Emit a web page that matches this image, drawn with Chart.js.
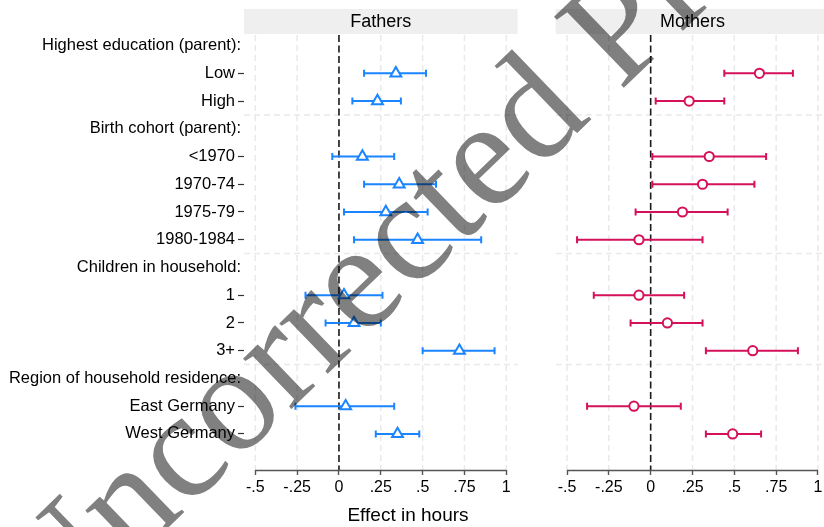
<!DOCTYPE html>
<html><head><meta charset="utf-8">
<script src="https://cdn.jsdelivr.net/npm/chart.js@4.4.1/dist/chart.umd.min.js"></script>
<style>
html,body{margin:0;padding:0;background:#fff;overflow:hidden;}
#wrap{position:relative;width:824px;height:527px;overflow:hidden;background:#fff;}
#c1{position:absolute;left:0;top:0;}
#c2{position:absolute;left:520px;top:0;}
#wm{position:absolute;left:0;top:0;mix-blend-mode:multiply;pointer-events:none;}
</style></head><body>
<div id="wrap">
<canvas id="c1" width="520" height="527"></canvas>
<canvas id="c2" width="310" height="527"></canvas>
<canvas id="wm" width="824" height="527"></canvas>
</div>
<script>
// ---- data ----
const rowLabels = ['Highest education (parent):','Low','High','Birth cohort (parent):','<1970','1970-74','1975-79','1980-1984','Children in household:','1','2','3+','Region of household residence:','East Germany','West Germany'];
const isHeader = [true,false,false,true,false,false,false,false,true,false,false,false,true,false,false];
const fathersEst  = [null,0.34,0.23,null,0.14,0.36,0.28,0.47,null,0.03,0.09,0.72,null,0.04,0.35];
const fathersLow  = [null,0.15,0.08,null,-0.04,0.15,0.03,0.09,null,-0.20,-0.08,0.50,null,-0.26,0.22];
const fathersHigh = [null,0.52,0.37,null,0.33,0.58,0.53,0.85,null,0.26,0.25,0.93,null,0.33,0.48];
const mothersEst  = [null,0.65,0.23,null,0.35,0.31,0.19,-0.07,null,-0.07,0.10,0.61,null,-0.10,0.49];
const mothersLow  = [null,0.44,0.03,null,0.01,0.01,-0.09,-0.44,null,-0.34,-0.12,0.33,null,-0.38,0.33];
const mothersHigh = [null,0.85,0.44,null,0.69,0.62,0.46,0.31,null,0.20,0.31,0.88,null,0.18,0.66];
const xTickValues = [-0.5,-0.25,0,0.25,0.5,0.75,1];
const xTickLabels = ['-.5','-.25','0','.25','.5','.75','1'];
const groupBreaks = [2.5,7.5,11.5];
const panelTitles = ['Fathers','Mothers'];
const xAxisTitle = 'Effect in hours';
const watermarkText = 'Uncorrected Proof';

const FONT = '"Liberation Sans", Arial, Helvetica, sans-serif';
Chart.defaults.font.family = FONT;
Chart.defaults.color = '#000';

function ciData(lo, hi){
  const d = [];
  lo.forEach((l,i)=>{ if(l===null) return; d.push({x:l,y:i},{x:hi[i],y:i},{x:null,y:i}); });
  return d;
}
function estData(est){
  const d = [];
  est.forEach((e,i)=>{ if(e!==null) d.push({x:e,y:i}); });
  return d;
}

const decor = {
  id:'decor',
  beforeDatasetsDraw(chart, args, o){
    const {ctx, chartArea:ca, scales:{x,y}} = chart;
    ctx.save();
    ctx.strokeStyle = '#e9e9e9'; ctx.lineWidth = 1.5; ctx.setLineDash([6,4]);
    xTickValues.forEach(v=>{ if(v===0) return; const px=x.getPixelForValue(v);
      ctx.beginPath(); ctx.moveTo(px, ca.top); ctx.lineTo(px, ca.bottom); ctx.stroke(); });
    groupBreaks.forEach(v=>{ const py=y.getPixelForValue(v);
      ctx.beginPath(); ctx.moveTo(ca.left, py); ctx.lineTo(ca.right, py); ctx.stroke(); });
    ctx.strokeStyle = '#1a1a1a'; ctx.lineWidth = 1.6; ctx.setLineDash([7,3.5]);
    const z = x.getPixelForValue(0);
    ctx.beginPath(); ctx.moveTo(z, ca.top); ctx.lineTo(z, ca.bottom); ctx.stroke();
    ctx.setLineDash([]); ctx.strokeStyle = '#555'; ctx.lineWidth = 1.4;
    ctx.beginPath(); ctx.moveTo(x.getPixelForValue(xTickValues[0]), ca.bottom+0.5);
    ctx.lineTo(x.getPixelForValue(xTickValues[xTickValues.length-1]), ca.bottom+0.5); ctx.stroke();
    ctx.restore();
  },
  afterDraw(chart, args, o){
    const {ctx, chartArea:ca, scales:{y}} = chart;
    ctx.save();
    ctx.fillStyle = '#efefef';
    ctx.fillRect(ca.left, 9, ca.right-ca.left, 25);
    ctx.fillStyle = '#000'; ctx.font = '18px '+FONT; ctx.textAlign='center'; ctx.textBaseline='middle';
    ctx.fillText(o.title, (ca.left+ca.right)/2, 22.5);
    if (o.headers){
      ctx.font = '16.5px '+FONT; ctx.textAlign='right';
      rowLabels.forEach((t,i)=>{ if(isHeader[i]) ctx.fillText(t, 241, y.getPixelForValue(i)); });
    }
    if (o.xtitle){
      ctx.font = '19px '+FONT; ctx.textAlign='center';
      ctx.fillText(o.xtitle, 408, 516);
    }
    ctx.restore();
  }
};

function makeChart(id, est, lo, hi, color, style, radius, idx){
  const left = idx===0;
  return new Chart(document.getElementById(id), {
    type:'scatter',
    data:{datasets:[
      {data:estData(est), pointStyle:style, pointRadius:radius, pointHoverRadius:radius,
       pointBorderWidth:2, pointBackgroundColor:'#fff', pointBorderColor:color, order:0},
      {data:ciData(lo,hi), showLine:true, borderColor:color, borderWidth:2, spanGaps:false,
       pointStyle:'line', pointRotation:90, pointRadius:3.5, pointBorderWidth:2,
       pointBorderColor:color, pointBackgroundColor:color, order:1}
    ]},
    options:{
      responsive:false, animation:false, devicePixelRatio:1,
      layout:{autoPadding:false, padding:{top:35, right: left?2.4:0.7, left: left?0:35.7, bottom:0}},
      plugins:{legend:{display:false}, tooltip:{enabled:false},
        decor:{title:panelTitles[idx], headers:left, xtitle:left?xAxisTitle:null}},
      scales:{
        x:{type:'linear', min:-0.5676, max:1.0676,
          afterBuildTicks:s=>{ s.ticks = xTickValues.map(v=>({value:v})); },
          afterFit:s=>{ s.height = 57; },
          ticks:{autoSkip:false, maxRotation:0, padding:3, font:{size:16}, color:'#000',
            callback:(v)=>xTickLabels[xTickValues.indexOf(v)]},
          grid:{drawOnChartArea:false, drawTicks:true, tickLength:5, tickColor:'#555', tickWidth:1.4},
          border:{display:false}},
        y:{type:'linear', reverse:true, min:-0.38, max:15.3, display:left,
          afterBuildTicks:s=>{ s.ticks = rowLabels.map((_,i)=>({value:i})); },
          afterFit:s=>{ s.width = left ? 244 : 0; },
          ticks:{autoSkip:false, padding:3, font:{size:16.5}, color:'#000',
            callback:(v)=> isHeader[v] ? '' : rowLabels[v]},
          grid:{drawOnChartArea:false, drawTicks:true, tickLength:6, tickWidth:1.2,
            tickColor:(c)=> isHeader[c.index] ? 'rgba(0,0,0,0)' : '#333'},
          border:{display:false}}
      }
    },
    plugins:[decor]
  });
}

makeChart('c1', fathersEst, fathersLow, fathersHigh, '#1A85FF', 'triangle', 6.3, 0);
makeChart('c2', mothersEst, mothersLow, mothersHigh, '#D41159', 'circle', 4.6, 1);

// watermark overlay
const wm = document.getElementById('wm').getContext('2d');
const WS = 152;
wm.font = WS+'px "Liberation Serif", "DejaVu Serif", serif';
const off = wm.measureText('Uncorr').width + wm.measureText('e').width/2;
wm.save();
wm.translate(362, 292);
wm.rotate(-44*Math.PI/180);
wm.fillStyle = '#808080';
wm.fillText(watermarkText, -off, WS*0.23);
wm.restore();
</script>
</body></html>
